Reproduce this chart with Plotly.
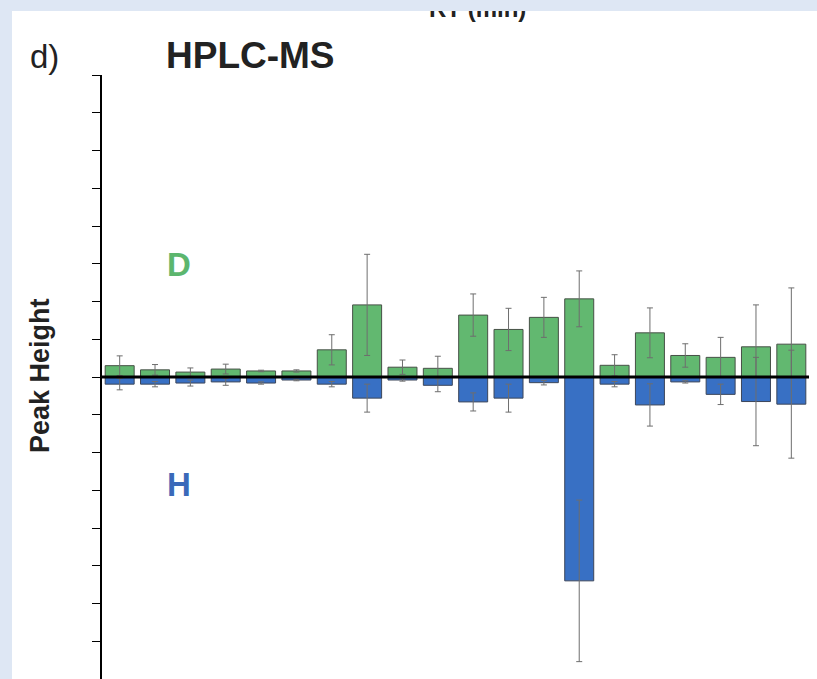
import plotly.graph_objects as go

# Peak numbers along the retention-time axis
peaks = list(range(1, 21))

# Deuterated (D) peak heights and their error bars
d_height = [0.30, 0.19, 0.13, 0.21, 0.16, 0.16, 0.72, 1.91, 0.26, 0.23,
            1.64, 1.26, 1.58, 2.07, 0.31, 1.17, 0.57, 0.52, 0.80, 0.87]
d_err = [0.26, 0.14, 0.11, 0.13, 0.02, 0.03, 0.40, 1.34, 0.19, 0.32,
         0.56, 0.56, 0.53, 0.74, 0.28, 0.66, 0.31, 0.53, 1.11, 1.49]

# Protonated (H) peak heights, plotted downward, and their error bars
h_height = [-0.19, -0.19, -0.16, -0.13, -0.16, -0.08, -0.19, -0.56, -0.08, -0.22,
            -0.66, -0.56, -0.15, -5.40, -0.19, -0.74, -0.13, -0.46, -0.65, -0.72]
h_err = [0.15, 0.07, 0.08, 0.09, 0.03, 0.02, 0.07, 0.37, 0.03, 0.17,
         0.24, 0.37, 0.06, 2.14, 0.07, 0.56, 0.03, 0.27, 1.17, 1.43]

y_ticks = list(range(-8, 9))

W, H = 817, 679
ML, MR, MT, MB = 102, 8, 75, 0
PW, PH = W - ML - MR, H - MT - MB


def px(x):
    return (x - ML) / PW


def py(y):
    return (H - MB - y) / PH


GREEN = "rgb(98,184,112)"
BLUE = "rgb(56,112,196)"
BAND = "rgb(222,231,244)"
FONT = "Liberation Sans, Arial, sans-serif"

err_style = dict(type="data", visible=True, color="rgb(110,110,110)",
                 thickness=1, width=3)

fig = go.Figure()
fig.add_trace(go.Bar(
    x=peaks, y=d_height, name="D", marker_color=GREEN,
    marker_line=dict(color="rgb(70,80,70)", width=1),
    error_y=dict(array=d_err, **err_style),
))
fig.add_trace(go.Bar(
    x=peaks, y=h_height, name="H", marker_color=BLUE,
    marker_line=dict(color="rgb(60,70,90)", width=1),
    error_y=dict(array=h_err, **err_style),
))

# Baseline at zero drawn over the bars
fig.add_shape(type="line", xref="paper", yref="y", x0=0, x1=1, y0=0, y1=0,
              line=dict(color="black", width=3), layer="above")

annotations = [
    dict(text="<b>RT (min)</b>", x=px(477), y=py(8), xref="paper", yref="paper",
         xanchor="center", yanchor="middle", showarrow=False,
         font=dict(family=FONT, size=24, color="#222")),
    # page border bands
    dict(text=" ", x=px(0), y=py(0), xref="paper", yref="paper",
         xanchor="left", yanchor="top", showarrow=False, width=W + 4, height=11,
         bgcolor=BAND, borderpad=0, borderwidth=0),
    dict(text=" ", x=px(0), y=py(0), xref="paper", yref="paper",
         xanchor="left", yanchor="top", showarrow=False, width=12, height=H + 4,
         bgcolor=BAND, borderpad=0, borderwidth=0),
    dict(text="d)", x=px(44), y=py(57), xref="paper", yref="paper",
         xanchor="center", yanchor="middle", showarrow=False,
         font=dict(family=FONT, size=33, color="#222")),
    dict(text="<b>HPLC-MS</b>", x=px(250), y=py(55), xref="paper", yref="paper",
         xanchor="center", yanchor="middle", showarrow=False,
         font=dict(family=FONT, size=37, color="#222")),
    dict(text="<b>Peak Height</b>", x=px(40), y=py(376), xref="paper", yref="paper",
         xanchor="center", yanchor="middle", showarrow=False, textangle=-90,
         font=dict(family=FONT, size=27, color="#222")),
    dict(text="<b>D</b>", x=px(179), y=py(264), xref="paper", yref="paper",
         xanchor="center", yanchor="middle", showarrow=False,
         font=dict(family=FONT, size=33, color="rgb(92,182,110)")),
    dict(text="<b>H</b>", x=px(179), y=py(484), xref="paper", yref="paper",
         xanchor="center", yanchor="middle", showarrow=False,
         font=dict(family=FONT, size=33, color="rgb(58,105,185)")),
]

fig.update_layout(
    width=W, height=H,
    margin=dict(l=ML, r=MR, t=MT, b=MB, pad=0),
    paper_bgcolor="white", plot_bgcolor="white",
    barmode="overlay", bargap=0.18,
    showlegend=False,
    annotations=annotations,
    xaxis=dict(range=[0.5, 20.5], visible=False, showgrid=False, zeroline=False),
    yaxis=dict(range=[-8, 8], tickvals=y_ticks, showticklabels=False,
               ticks="outside", ticklen=8, tickwidth=1.2, tickcolor="black",
               showline=True, linecolor="black", linewidth=2,
               showgrid=False, zeroline=False),
)

fig.write_html("out.html")
